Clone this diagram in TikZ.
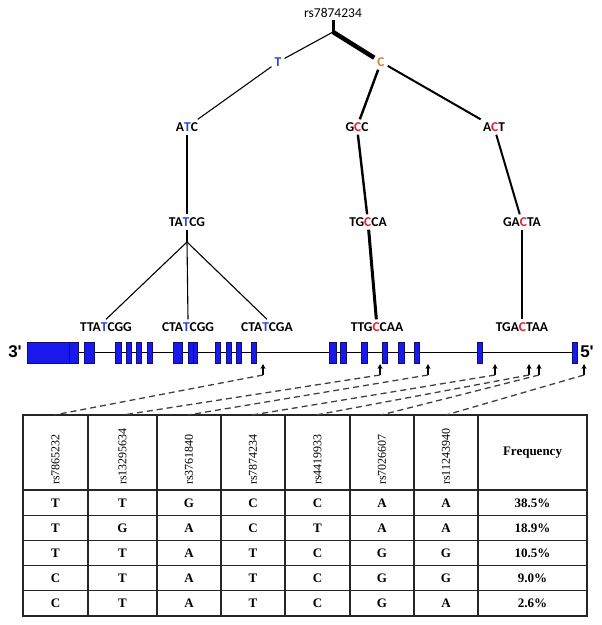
\documentclass[tikz,border=0pt]{standalone}
\usepackage{fontspec}
\setmainfont{Liberation Serif}
\newfontfamily\seqfont{Carlito}
\newfontfamily\primefont{Liberation Sans}
\usetikzlibrary{arrows, arrows.meta}
\definecolor{snpblue}{RGB}{35,70,215}
\definecolor{snpred}{RGB}{235,30,45}
\definecolor{snporange}{RGB}{215,130,45}
\definecolor{exonblue}{RGB}{25,25,235}
\definecolor{exonedge}{RGB}{15,15,110}
\tikzstyle{seq} = [font=\seqfont\bfseries\fontsize{13.5bp}{16bp}\selectfont, inner sep=3bp]
\tikzstyle{rslabel} = [font=\seqfont\fontsize{13.5bp}{16bp}\selectfont, inner sep=2bp]
\tikzstyle{prime} = [font=\primefont\bfseries\fontsize{17bp}{20bp}\selectfont]
\tikzstyle{branch} = [line width=1.1bp]
\tikzstyle{exon} = [draw=exonedge, fill=exonblue, line width=0.8bp]
\tikzstyle{snparrow} = [line width=1.1bp, -{Stealth[length=5bp,width=5bp]}]
\tikzstyle{link} = [line width=1.3bp, draw=black!75, dash pattern=on 6bp off 4bp]
\tikzstyle{grid} = [line width=1.3bp, draw=black!85]
\tikzstyle{cell} = [font=\bfseries\fontsize{13bp}{15bp}\selectfont]
\tikzstyle{head} = [font=\fontsize{12bp}{14bp}\selectfont, rotate=90, anchor=west, inner sep=0pt]

\begin{document}
\begin{tikzpicture}[x=1bp,y=-1bp]
\useasboundingbox (0,0) rectangle (602,625);

% Nodes
\node (rs) [rslabel] at (333,13) {rs7874234};
\coordinate (root) at (333,32);
\node (t) [seq] at (278,62) {\textcolor{snpblue}{T}};
\node (c) [seq] at (381,62) {\textcolor{snporange}{C}};

\node (atc) [seq] at (187,127) {A\textcolor{snpblue}{T}C};
\node (gcc) [seq] at (357,127) {G\textcolor{snpred}{C}C};
\node (act) [seq] at (494,127) {A\textcolor{snpred}{C}T};

\node (tatcg) [seq] at (187,222) {TA\textcolor{snpblue}{T}CG};
\node (tgcca) [seq] at (368,222) {TG\textcolor{snpred}{C}CA};
\node (gacta) [seq] at (522,222) {GA\textcolor{snpred}{C}TA};
\coordinate (fork) at (187,242);

\node (ttatcgg) [seq] at (106,327) {TTA\textcolor{snpblue}{T}CGG};
\node (ctatcgg) [seq] at (188,327) {CTA\textcolor{snpblue}{T}CGG};
\node (ctatcga) [seq] at (267,327) {CTA\textcolor{snpblue}{T}CGA};
\node (ttgccaa) [seq] at (377,327) {TTG\textcolor{snpred}{C}CAA};
\node (tgactaa) [seq] at (522,327) {TGA\textcolor{snpred}{C}TAA};

% Branches
\draw [line width=3bp] (rs) -- (root);
\draw [branch] (root) -- (t);
\draw [line width=4.5bp] (root) -- (c);
\draw [branch] (t) -- (atc);
\draw [branch] (atc) -- (tatcg);
\draw [branch] (tatcg) -- (fork);
\draw [branch] (fork) -- (ttatcgg.north);
\draw [branch] (fork) -- (ctatcgg.north);
\draw [branch] (fork) -- (ctatcga.north);
\draw [line width=2.4bp] (c) -- (gcc);
\draw [line width=2.4bp] (gcc) -- (tgcca);
\draw [line width=3bp] (tgcca) -- (ttgccaa);
\draw [line width=2bp] (c) -- (act);
\draw [line width=2bp] (act) -- (gacta);
\draw [line width=1.8bp] (gacta) -- (tgactaa);

% Gene
\node (three) [prime] at (15,352) {3'};
\node (five) [prime] at (587,352) {5'};
\coordinate (gstart) at (27,352.5);
\coordinate (gend) at (575,352.5);
\draw [line width=1.2bp] (gstart) -- (gend);
\foreach \a/\b in {27/69, 69/78, 84/94, 115/121, 126/131, 136/141, 147/152,
    173/182, 188/193, 193/197, 215/220, 226/231, 236/241, 251/256,
    329/336, 340/346, 361/367, 382/387, 398/404, 414/419, 477/482, 572/577}
  \draw [exon] (\a,342) rectangle (\b,363);

% Table
\draw [grid] (23,415) rectangle (587,616);
\foreach \x in {88,157,221,285,350,414,478}
  \draw [grid] (\x,415) -- (\x,616);
\foreach \y in {490,515.2,540.4,565.6,590.8}
  \draw [grid] (23,\y) -- (587,\y);

\node (h1) [head] at (55.5,485) {rs7865232};
\node (h2) [head] at (122.5,485) {rs13295634};
\node (h3) [head] at (189,485) {rs3761840};
\node (h4) [head] at (253,485) {rs7874234};
\node (h5) [head] at (317.5,485) {rs4419933};
\node (h6) [head] at (382,485) {rs7026607};
\node (h7) [head] at (446,485) {rs11243940};
\node (freq) [cell] at (532.5,453) {Frequency};

\foreach \y/\a/\b/\cc/\d/\e/\f/\g/\h [count=\i] in {
    503/T/T/G/C/C/A/A/38.5\%, 528/T/G/A/C/T/A/A/18.9\%,
    553/T/T/A/T/C/G/G/10.5\%, 578/C/T/A/T/C/G/G/9.0\%,
    603/C/T/A/T/C/G/A/2.6\%} {
  \node (hap\i-1) [cell] at (55.5,\y) {\a};
  \node (hap\i-2) [cell] at (122.5,\y) {\b};
  \node (hap\i-3) [cell] at (189,\y) {\cc};
  \node (hap\i-4) [cell] at (253,\y) {\d};
  \node (hap\i-5) [cell] at (317.5,\y) {\e};
  \node (hap\i-6) [cell] at (382,\y) {\f};
  \node (hap\i-7) [cell] at (446,\y) {\g};
  \node (hap\i-8) [cell] at (532.5,\y) {\h};
}

% Arrows
\foreach \gx/\tx [count=\i] in {263/54, 380/123, 428/188, 495/252, 529/316, 539/381, 584/446} {
  \coordinate (tip\i) at (\gx,364);
  \coordinate (foot\i) at (\gx,375);
  \coordinate (top\i) at (\tx,415);
  \draw [snparrow] (foot\i) -- (tip\i);
  \draw [link] (foot\i) -- (top\i);
}

\end{tikzpicture}
\end{document}
